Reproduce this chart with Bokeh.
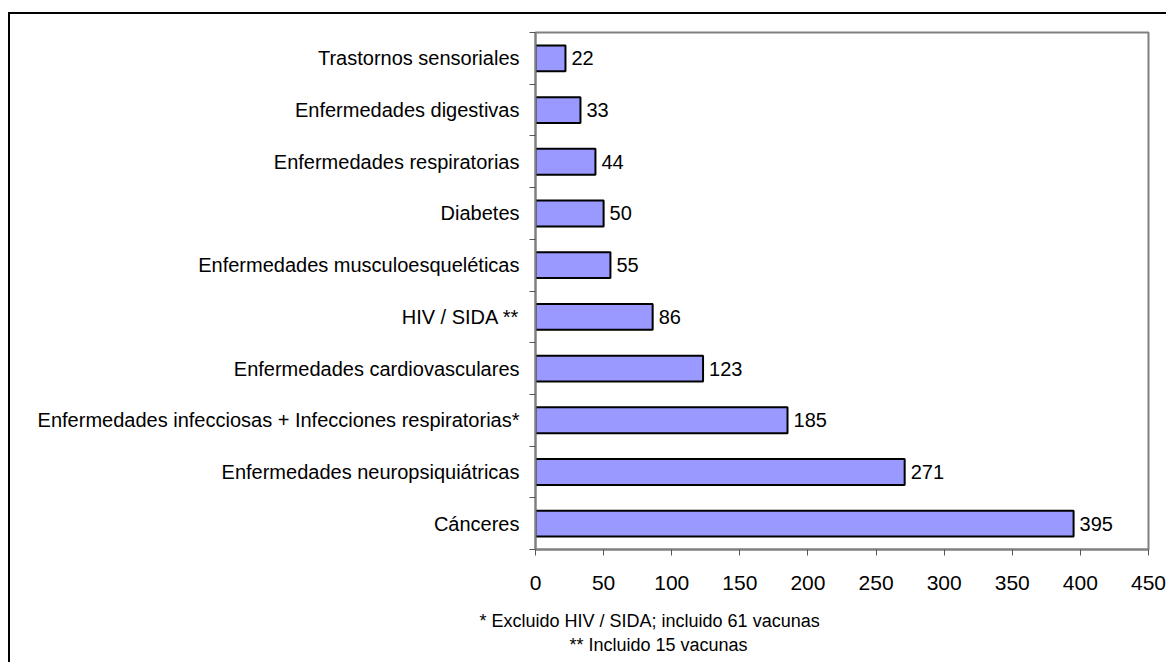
from bokeh.plotting import figure
from bokeh.models import Range1d, FixedTicker, Title, ColumnDataSource
from bokeh.core.properties import value
from bokeh.embed import file_html
from bokeh.resources import INLINE

categories = [
    "Cánceres",
    "Enfermedades neuropsiquiátricas",
    "Enfermedades infecciosas + Infecciones respiratorias*",
    "Enfermedades cardiovasculares",
    "HIV / SIDA **",
    "Enfermedades musculoesqueléticas",
    "Diabetes",
    "Enfermedades respiratorias",
    "Enfermedades digestivas",
    "Trastornos sensoriales",
]
values = [395, 271, 185, 123, 86, 55, 50, 44, 33, 22]
x_ticks = [0, 50, 100, 150, 200, 250, 300, 350, 400, 450]
footnotes = ["* Excluido HIV / SIDA; incluido 61 vacunas", "** Incluido 15 vacunas"]

FONT = "Liberation Sans"
pos = list(range(len(categories)))

p = figure(
    width=1158, height=650,
    output_backend="svg", toolbar_location=None,
    x_range=Range1d(0, 450), y_range=Range1d(-0.5, len(categories) - 0.5),
    min_border_left=525, min_border_top=18, min_border_right=20, min_border_bottom=115,
)
p.styles = {"border-left": "2px solid black", "border-top": "2px solid black",
            "margin-top": "12px", "margin-left": "8px"}

p.xgrid.visible = False
p.ygrid.visible = False
p.outline_line_color = "#808080"
p.outline_line_width = 2
p.background_fill_color = "white"
p.border_fill_color = "white"

src = ColumnDataSource(dict(y=pos, v=values, lab=[str(v) for v in values]))
p.hbar(y="y", right="v", left=0, height=0.5, source=src,
       fill_color="#9999FF", line_color="black", line_width=2)
p.text(x="v", y="y", text="lab", source=src, x_offset=6,
       text_align="left", text_baseline="middle",
       text_font=value(FONT), text_font_size="20px", text_color="black")

# x axis
xa = p.xaxis[0]
xa.ticker = FixedTicker(ticks=x_ticks, minor_ticks=[])
xa.axis_line_color = "#808080"
xa.axis_line_width = 2
xa.major_tick_line_color = "#555555"
xa.major_tick_out = 6
xa.major_tick_in = 0
xa.minor_tick_line_color = None
xa.major_label_text_font = FONT
xa.major_label_text_font_size = "21px"
xa.major_label_text_color = "black"
xa.major_label_standoff = 20

# y axis
ya = p.yaxis[0]
ya.ticker = FixedTicker(ticks=pos, minor_ticks=[i - 0.5 for i in range(len(categories) + 1)])
ya.major_label_overrides = {i: c for i, c in enumerate(categories)}
ya.axis_line_color = "#808080"
ya.axis_line_width = 2
ya.major_tick_line_color = None
ya.major_tick_out = 0
ya.major_tick_in = 0
ya.minor_tick_line_color = "#555555"
ya.minor_tick_out = 6
ya.minor_tick_in = 0
ya.major_label_text_font = FONT
ya.major_label_text_font_size = "20px"
ya.major_label_text_color = "black"
ya.major_label_standoff = 10

# spacer between the axis labels and the footnotes
p.add_layout(Title(text=" ", standoff=12, text_font_size="1px"), "below")

# footnotes below the x axis
foot_offsets = [-56, 34]
for t, off in zip(footnotes, foot_offsets):
    p.add_layout(Title(text=t, align="left", offset=off, standoff=2,
                       text_font=FONT, text_font_size="18px", text_font_style="normal",
                       text_color="black"), "below")

open("out.html", "w").write(file_html(p, INLINE))
